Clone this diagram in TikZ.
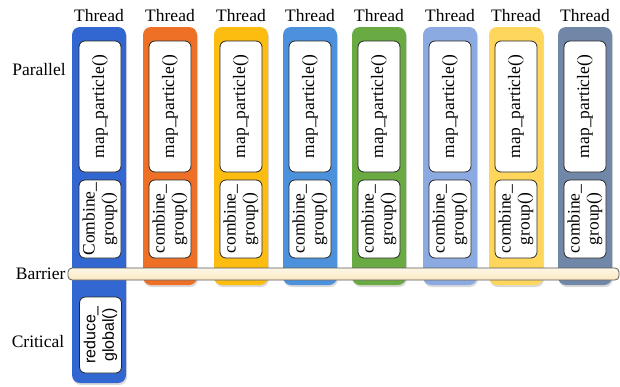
\documentclass[tikz,border=0pt]{standalone}
\usepackage{fontspec}
\setmainfont{Liberation Serif}
\newfontfamily\sansfam{Liberation Sans}
\usepackage{tikz}
\usetikzlibrary{positioning, shadows}
\definecolor{thrA}{RGB}{50,102,208}
\definecolor{thrB}{RGB}{237,112,38}
\definecolor{thrC}{RGB}{252,188,16}
\definecolor{thrD}{RGB}{76,145,220}
\definecolor{thrE}{RGB}{106,170,66}
\definecolor{thrF}{RGB}{140,170,226}
\definecolor{thrG}{RGB}{255,214,92}
\definecolor{thrH}{RGB}{112,135,168}
\definecolor{barfill}{RGB}{251,232,192}
\tikzset{
  threadcol/.style={
    rectangle, rounded corners=8pt, inner sep=0pt,
    minimum width=54pt,
    drop shadow={opacity=0.3, shadow xshift=1pt, shadow yshift=-2pt}
  },
  callbox/.style={
    rectangle, rounded corners=6pt, rotate=90,
    draw=black!85, line width=0.8pt, fill=white,
    minimum height=42pt, inner sep=0pt, align=center,
    font=\fontsize{17.5}{19}\selectfont
  },
  sidelbl/.style={font=\fontsize{17.5}{19}\selectfont, inner sep=1pt},
  barbox/.style={
    rectangle, rounded corners=4pt, draw=black!65, line width=0.8pt,
    top color=barfill!40, bottom color=barfill,
    minimum width=551pt, minimum height=12pt, inner sep=0pt
  }
}
\begin{document}
\begin{tikzpicture}[x=1pt, y=-1pt]
  \useasboundingbox (0,0) rectangle (620,386);

  % first thread runs down into the critical section
  \node[threadcol, fill=thrA, minimum height=356pt] (t1) at (99,205) {};
  \node[callbox, minimum width=131pt] (m1) at (100,106.5) {map\_particle()};
  \node[callbox, minimum width=78pt] (c1) at (100,219) {Combine\_\\group()};
  \node[callbox, minimum width=76pt, font=\sansfam\fontsize{16}{18.5}\selectfont]
    (r1) at (100.5,335) {reduce\_\\global()};
  \node[sidelbl, above=4pt of t1] (h1) {Thread};

  % the other threads
  \foreach \cx/\col [count=\i from 2] in {170/thrB,241/thrC,310/thrD,379/thrE,450/thrF,516/thrG,585/thrH} {
    \node[threadcol, fill=\col, minimum height=258pt] (t\i) at (\cx,156) {};
    \node[callbox, minimum width=131pt] (m\i) at (\cx,106.5) {map\_particle()};
    \node[callbox, minimum width=78pt] (c\i) at (\cx,219) {combine\_\\group()};
    \node[sidelbl, above=4pt of t\i] (h\i) {Thread};
  }

  % barrier across all threads
  \node[barbox] (bar) at (343.5,274) {};

  % phase labels
  \node[sidelbl] (par) at (39,70) {Parallel};
  \node[sidelbl, left=1pt of bar] (bar-lbl) {Barrier};
  \node[sidelbl] (crit) at (38,342) {Critical};
\end{tikzpicture}
\end{document}
